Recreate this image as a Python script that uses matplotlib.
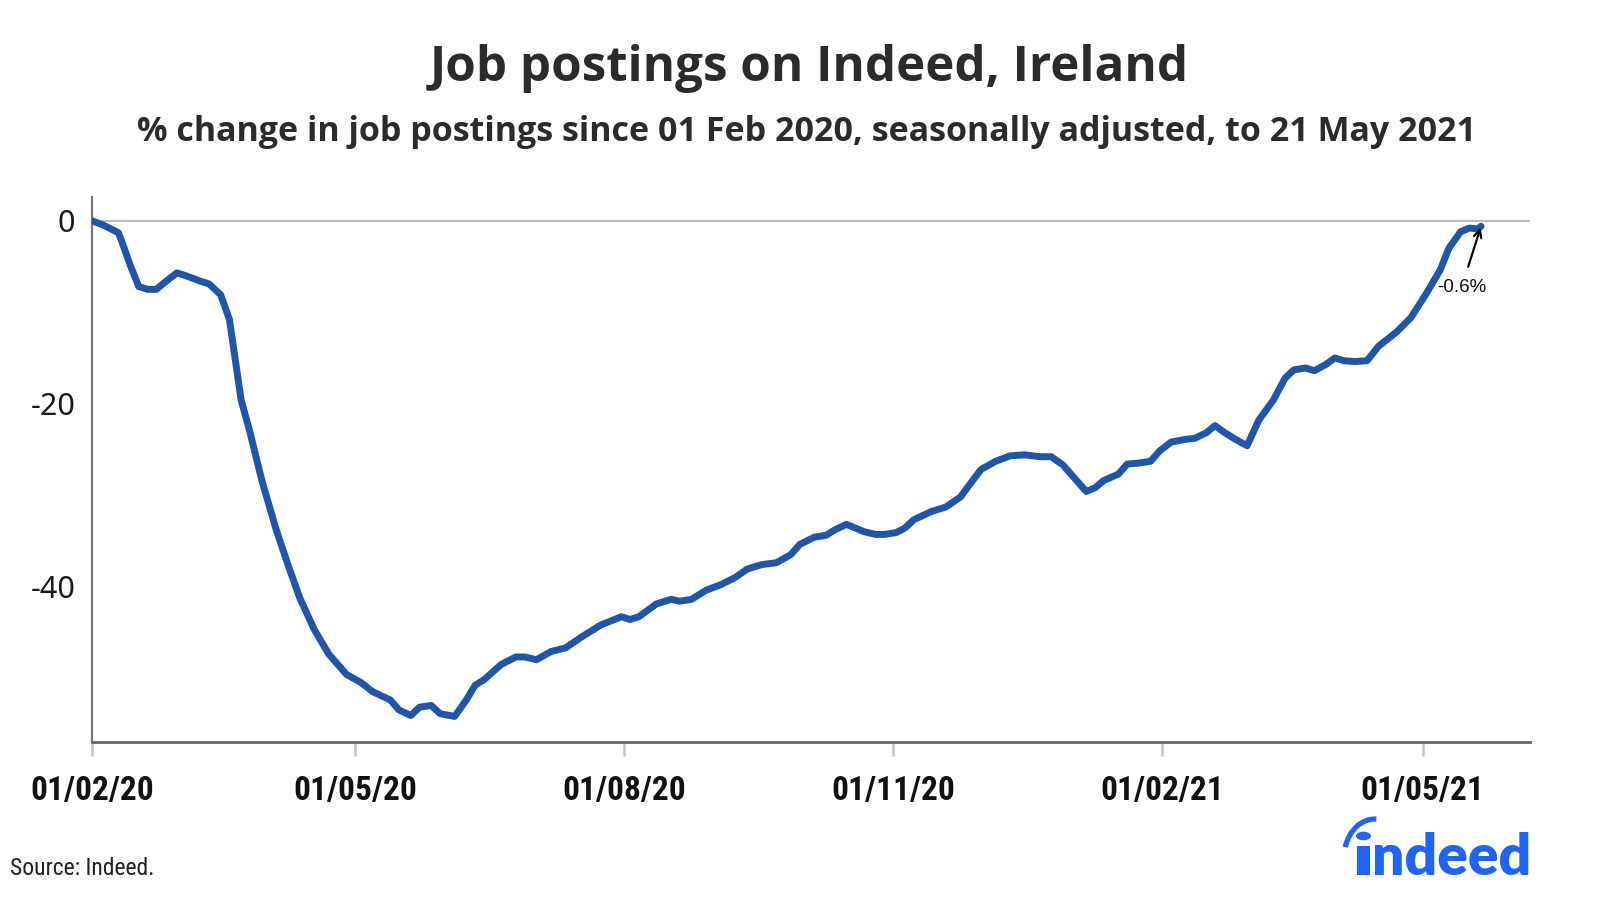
import matplotlib
matplotlib.use("Agg")
import matplotlib.pyplot as plt
from matplotlib import font_manager
from matplotlib.font_manager import FontProperties
from matplotlib.patches import Arc, Rectangle, Circle
import pandas as pd

# ---- data ----
start_date = "2020-02-01"
days = [0, 4, 9, 10, 13, 16, 19, 22, 25, 29, 32, 37, 40, 44, 47, 49, 51, 54, 58, 63,
        67, 71, 76, 81, 87, 92, 96, 102, 105, 109, 112, 116, 119, 124, 128, 131, 134,
        140, 145, 148, 152, 157, 162, 167, 174, 181, 184, 187, 193, 198, 201, 205, 210,
        215, 220, 224, 229, 234, 239, 242, 247, 251, 254, 258, 261, 264, 268, 271, 275,
        278, 281, 287, 292, 297, 300, 304, 309, 314, 319, 324, 328, 332, 335, 340, 343,
        346, 351, 354, 358, 362, 365, 369, 374, 377, 381, 384, 387, 391, 395, 399, 404,
        408, 411, 415, 418, 422, 425, 428, 432, 436, 440, 446, 451, 456, 461, 464, 468,
        471, 474, 475]
pct = [0.0, -0.5, -1.3, -2.1, -4.8, -7.2, -7.5, -7.5, -6.7, -5.7, -6.0, -6.6, -6.9, -8.1,
       -10.8, -15.2, -19.6, -23.1, -28.3, -33.8, -37.6, -41.2, -44.7, -47.4, -49.6, -50.5,
       -51.5, -52.4, -53.5, -54.1, -53.2, -53.0, -53.9, -54.2, -52.4, -50.8, -50.2, -48.5,
       -47.7, -47.7, -48.0, -47.1, -46.7, -45.6, -44.2, -43.3, -43.6, -43.3, -41.9, -41.4,
       -41.6, -41.4, -40.4, -39.8, -39.0, -38.1, -37.6, -37.4, -36.5, -35.4, -34.6, -34.4,
       -33.8, -33.2, -33.6, -34.0, -34.3, -34.3, -34.1, -33.6, -32.7, -31.8, -31.3, -30.2,
       -28.9, -27.2, -26.3, -25.7, -25.6, -25.8, -25.8, -26.7, -27.8, -29.6, -29.2, -28.4,
       -27.7, -26.6, -26.5, -26.3, -25.2, -24.2, -23.9, -23.8, -23.2, -22.4, -23.1, -23.9,
       -24.6, -21.8, -19.6, -17.2, -16.3, -16.1, -16.4, -15.7, -15.0, -15.3, -15.4, -15.3,
       -13.7, -12.2, -10.6, -8.1, -5.4, -3.0, -1.2, -0.8, -0.9, -0.6]
tick_dates = ["2020-02-01", "2020-05-01", "2020-08-01", "2020-11-01", "2021-02-01", "2021-05-01"]
tick_labels = ["01/02/20", "01/05/20", "01/08/20", "01/11/20", "01/02/21", "01/05/21"]
y_ticks = [0, -20, -40]
last_label = "-0.6%"

title = "Job postings on Indeed, Ireland"
subtitle = "% change in job postings since 01 Feb 2020, seasonally adjusted, to 21 May 2021"
source = "Source: Indeed."

# ---- fonts ----
ttf = font_manager.fontManager.ttflist
names = {f.name for f in ttf}


def find_condensed(bold):
    cands = []
    for f in ttf:
        st = str(f.stretch).lower()
        nm = f.name.lower()
        is_cond = ("condensed" in st or "narrow" in nm or "condensed" in nm
                   or (isinstance(f.stretch, (int, float)) and f.stretch < 500))
        if not is_cond:
            continue
        w = f.weight if isinstance(f.weight, (int, float)) else (700 if "bold" in str(f.weight).lower() else 400)
        if "italic" in str(f.style).lower() or "oblique" in str(f.style).lower():
            continue
        score = abs(w - (700 if bold else 400))
        pref = 0 if ("liberation" in nm or "arial" in nm) else (1 if "roboto" in nm or "noto" in nm else 2)
        cands.append((score, pref, f.fname))
    if not cands:
        return None
    cands.sort()
    return cands[0][2]

cb = find_condensed(True)
cr = find_condensed(False)
xtick_fp = FontProperties(fname=cb, size=24) if cb else FontProperties(family="Liberation Sans", weight="bold", size=20)
src_fp = FontProperties(fname=cr, size=17) if cr else FontProperties(family="Liberation Sans", size=15)

head_family = "Open Sans" if "Open Sans" in names else "Noto Sans"
plt.rcParams['font.family'] = [head_family, 'DejaVu Sans']

dates = pd.Timestamp(start_date) + pd.to_timedelta(days, unit="D")

fig = plt.figure(figsize=(16, 9.09), dpi=100)
ax = fig.add_axes([0.0575, 0.1837, 0.8985, 0.5996])

ax.axhline(0, color="#bdbdbd", lw=1.6, zorder=1)
ax.plot(dates, pct, color="#2155a5", lw=5.0, solid_capstyle="round",
        solid_joinstyle="round", zorder=3)

ax.set_xlim(pd.Timestamp(start_date), pd.Timestamp(start_date) + pd.Timedelta(days=491.6))
ax.set_ylim(-57, 2.6)

ax.set_xticks(pd.to_datetime(tick_dates))
ax.set_xticklabels(tick_labels, color="#111111")
for lab in ax.get_xticklabels():
    lab.set_fontproperties(xtick_fp)
ax.tick_params(axis="x", direction="out", length=10, width=1.8, color="#c4c4c4", pad=14)
ax.set_yticks(y_ticks)
ax.set_yticklabels([str(v) for v in y_ticks], fontsize=22, color="#1a1a1a",
                   fontfamily="Noto Sans")
ax.tick_params(axis="y", length=0, pad=12)

for s in ["top", "right"]:
    ax.spines[s].set_visible(False)
ax.spines["left"].set_color("#777777")
ax.spines["left"].set_linewidth(1.6)
ax.spines["bottom"].set_color("#666666")
ax.spines["bottom"].set_linewidth(2.0)

# annotation on last point
ax.annotate(last_label, xy=(dates[-1], pct[-1]), xytext=(-14, -44),
            textcoords="offset points", ha="center", va="center", fontsize=13.5,
            fontfamily="Liberation Sans", color="#111111",
            arrowprops=dict(arrowstyle="->", color="black", lw=1.6, shrinkA=7, shrinkB=1))

fig.text(0.506, 0.925, title, ha="center", va="center", fontsize=35.5,
         fontweight="bold", color="#2b2b2b")
fig.text(0.504, 0.855, subtitle, ha="center", va="center", fontsize=24.5,
         fontweight="bold", color="#2b2b2b")
fig.text(0.006, 0.045, source, ha="left", va="center", fontproperties=src_fp,
         color="#222222")

# indeed logo (approximation drawn in pixel space)
logo_blue = "#2164f3"
W, H = 1600, 909
def fx(px):
    return px / W
def fy(py):
    return 1 - py / H
fig.text(fx(1531), fy(875), "ndeed", ha="right", va="baseline", fontsize=41,
         fontfamily="Lato", fontweight="heavy", color=logo_blue)
# i stem, dot and swoosh
fig.add_artist(Rectangle((fx(1357), fy(875)), 13 / W, 29 / H, transform=fig.transFigure,
                         color=logo_blue, lw=0))
fig.add_artist(Circle((fx(1363.5), fy(836)), 7.5 / W, transform=fig.transFigure,
                      color=logo_blue, lw=0))
ax_logo = fig.add_axes([fx(1335), fy(860), 60 / W, 45 / H])
ax_logo.set_xlim(0, 60)
ax_logo.set_ylim(0, 45)
ax_logo.axis("off")
ax_logo.add_patch(Arc((40, 2), 62, 78, theta1=88, theta2=160, color=logo_blue, lw=3.8))

fig.savefig("out.png", dpi=100)
